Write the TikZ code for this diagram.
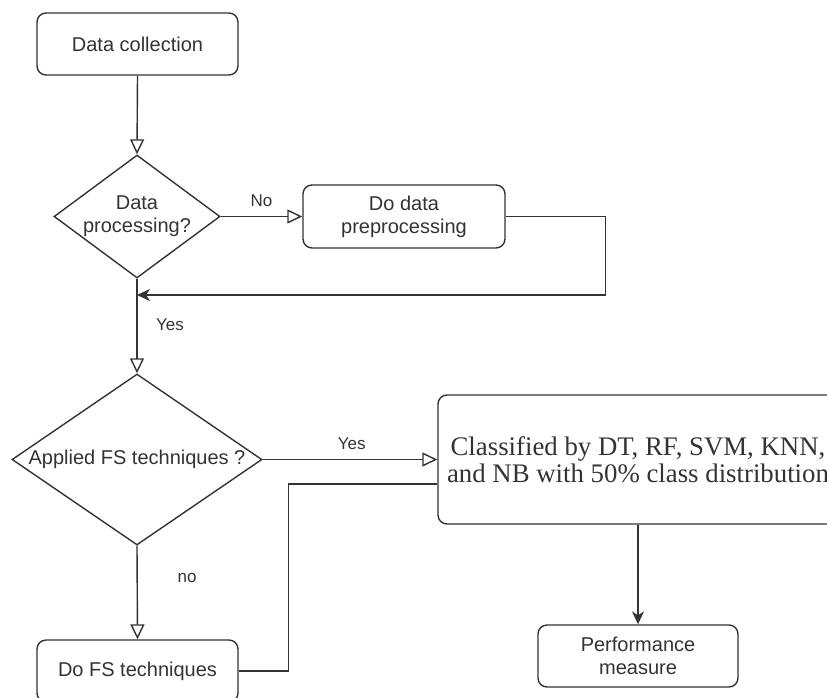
\documentclass[tikz,border=0pt]{standalone}
\usepackage{fontspec}
\setmainfont{Liberation Sans}
\newfontfamily\seriffam{Liberation Serif}
\usetikzlibrary{shapes.geometric,arrows.meta,calc}
\definecolor{ink}{HTML}{333333}
\begin{document}
\begin{tikzpicture}[x=1pt,y=-1pt,
  every node/.style={font=\fontsize{20}{23}\selectfont, text=ink},
  line/.style={draw=ink, line width=1.4pt},
  box/.style={line, rounded corners=9pt, align=center, inner sep=0pt},
  dec/.style={line, diamond, inner sep=0pt},
  lbl/.style={font=\fontsize{17}{20}\selectfont},
  oarrow/.style={-{Triangle[open,length=15pt,width=14pt]}},
  farrow/.style={-{Stealth[length=13pt,width=12pt,inset=4pt]}}]
\useasboundingbox (0,0) rectangle (827,697);
\begin{scope}
\clip (0,0) rectangle (827,697);
\node[box, minimum width=201pt, minimum height=62pt] (dc) at (137.5,44) {Data collection};
\node[dec, minimum width=166pt, minimum height=123pt,
      label={[align=center]center:Data\\processing?}] (d1) at (137,216.5) {};
\node[box, minimum width=202pt, minimum height=63pt] (pre) at (404,216.5) {Do data\\preprocessing};
\coordinate (j) at (137,295);
\node[dec, minimum width=250pt, minimum height=171pt,
      label={center:Applied FS techniques ?}] (d2) at (137,459.5) {};
\node[box, minimum width=400pt, minimum height=129pt,
      font=\seriffam\fontsize{26.8}{27.5}\selectfont] (cls) at (638,459.5)
      {Classified by DT, RF, SVM, KNN,\\and NB with 50\% class distribution};
\node[box, minimum width=201pt, minimum height=62pt] (fs) at (137.5,671) {Do FS techniques};
\node[box, minimum width=200pt, minimum height=62pt] (perf) at (638,656) {Performance\\measure};

\draw[line, oarrow] (dc.south) -- (d1.north);
\draw[line, oarrow] (d1.east) -- node[lbl, midway, yshift=15.5pt] {No} (pre.west);
\draw[line, farrow] (pre.east) -- ++(100,0) |- (j);
\draw[line, oarrow] (d1.south) -- node[lbl, pos=0.49, xshift=33pt] {Yes} (d2.north);
\draw[line, oarrow] (d2.east) -- node[lbl, pos=0.51, yshift=15.5pt] {Yes} (cls.west);
\draw[line, oarrow] (d2.south) -- node[lbl, pos=0.35, xshift=50pt] {no} (fs.north);
\draw[line] (fs.east) -- ++(50,0) |- ($(cls.west)+(0,24.5)$);
\draw[line, farrow] (cls.south) -- (perf.north);
\end{scope}
\end{tikzpicture}
\end{document}
